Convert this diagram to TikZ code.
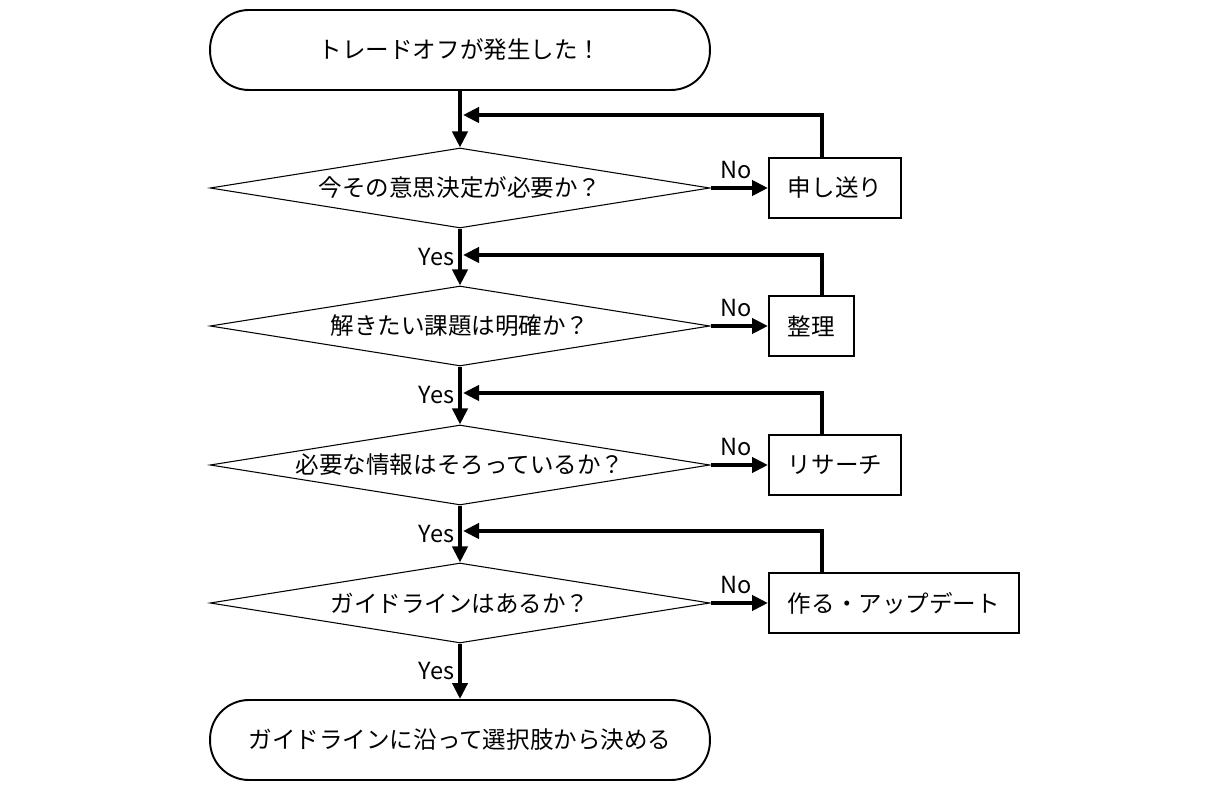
\documentclass[tikz,border=0pt]{standalone}
\usepackage{fontspec}
\setmainfont{Noto Sans CJK JP}
\usetikzlibrary{arrows.meta,shapes.geometric}
\tikzset{
  terminal/.style={draw,line width=1.1pt,rounded corners=0.78cm,minimum width=10cm,minimum height=1.6cm},
  decision/.style={draw,line width=0.6pt,diamond,aspect=6.25,inner sep=0pt,minimum width=10cm,minimum height=1.6cm},
  process/.style={draw,line width=1.1pt,anchor=west,inner xsep=0.38cm,minimum height=1.2cm},
  flow/.style={line width=2.4pt,-{Triangle[length=0.32cm,width=0.3cm]}},
  yes/.style={left,inner sep=2pt},
  no/.style={above,inner sep=4pt,pos=0.45}
}

\begin{document}
\begin{tikzpicture}[x=0.02cm,y=-0.02cm,font=\fontsize{13.4}{16}\selectfont]
  \useasboundingbox (0,0) rectangle (1228,790);
  % main column
  \node[terminal] (start) at (460,50) {トレードオフが発生した！};
  \node[decision] (q1) at (460,188) {今その意思決定が必要か？};
  \node[decision] (q2) at (460,326) {解きたい課題は明確か？};
  \node[decision] (q3) at (460,465) {必要な情報はそろっているか？};
  \node[decision] (q4) at (460,603) {ガイドラインはあるか？};
  \node[terminal] (finish) at (460,740) {ガイドラインに沿って選択肢から決める};
  % side actions
  \node[process,minimum width=2.6cm] (a1) at (768,188) {申し送り};
  \node[process] (a2) at (768,326) {整理};
  \node[process] (a3) at (768,465) {リサーチ};
  \node[process] (a4) at (768,603) {作る・アップデート};
  % return points
  \foreach \i/\y in {1/115,2/255,3/393,4/531} {
    \coordinate (j\i) at (463,\y);
    \coordinate (r\i) at (822,\y);
  }
  \draw[flow] (start) -- (q1);
  \draw[flow] (q1) -- node[yes] {Yes} (q2);
  \draw[flow] (q2) -- node[yes] {Yes} (q3);
  \draw[flow] (q3) -- node[yes] {Yes} (q4);
  \draw[flow] (q4) -- node[yes] {Yes} (finish);
  \foreach \i in {1,...,4} {
    \draw[flow] (q\i) -- node[no] {No} (a\i);
    \draw[flow] (r\i |- a\i.north) -- (r\i) -- (j\i);
  }
\end{tikzpicture}
\end{document}
